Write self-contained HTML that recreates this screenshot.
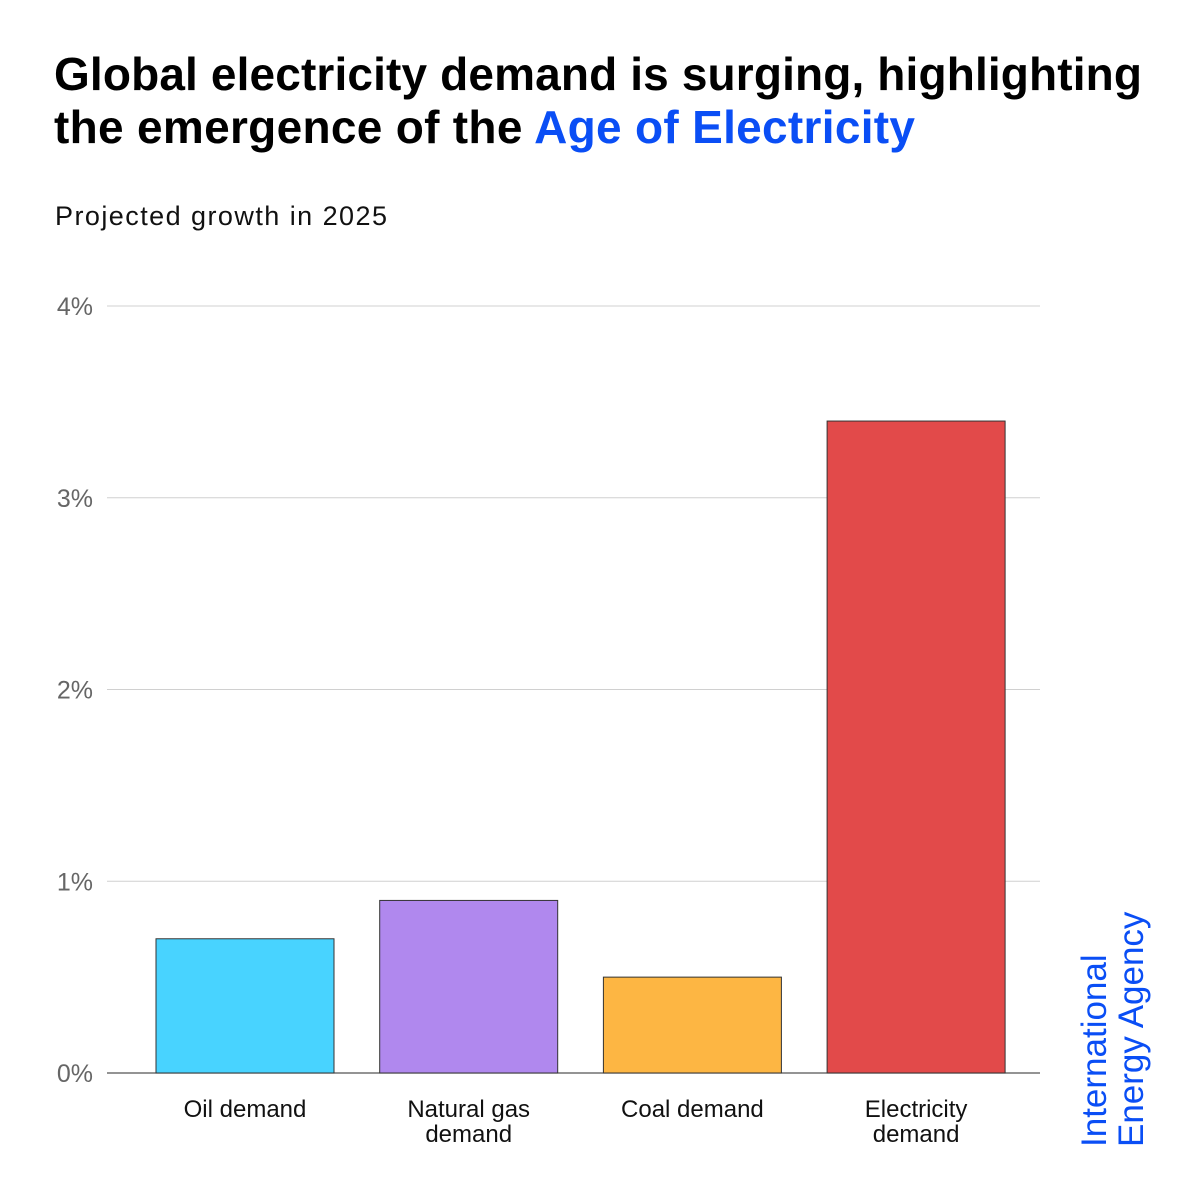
<!DOCTYPE html>
<html><head><meta charset="utf-8"><style>
body{margin:0;width:1200px;height:1200px;background:#fff;overflow:hidden}
svg{display:block;font-family:"Liberation Sans",sans-serif}
</style></head><body>
<svg id="c" width="1200" height="1200">
<text x="54" y="90" font-size="46" font-weight="bold" fill="#000" textLength="1088" lengthAdjust="spacing">Global electricity demand is surging, highlighting</text>
<text x="54" y="143" font-size="46" font-weight="bold" fill="#000" textLength="861" lengthAdjust="spacing">the emergence of the <tspan fill="#0a4ef5">Age of Electricity</tspan></text>
<text x="55" y="225" font-size="27" fill="#111" textLength="332" lengthAdjust="spacing">Projected growth in 2025</text>
<g id="grid"></g><g id="bars"></g><g id="xl"></g>
<text transform="translate(1106,1147) rotate(-90)" font-size="35" fill="#0a4ef5">International</text>
<text transform="translate(1143,1147) rotate(-90)" font-size="35" fill="#0a4ef5">Energy Agency</text>
</svg>
<script>
const categories=[["Oil demand"],["Natural gas","demand"],["Coal demand"],["Electricity","demand"]];
const values=[0.7,0.9,0.5,3.4];
const colors=["#48d3ff","#b088ee","#fdb643","#e24a4a"];
const ticks=[0,1,2,3,4];
const tickLabels=["0%","1%","2%","3%","4%"];
const NS="http://www.w3.org/2000/svg";
const y=v=>1073-v*191.75;
const x=i=>156+i*223.7;
const bw=178;
function mk(t,a,p){const e=document.createElementNS(NS,t);for(const k in a)e.setAttribute(k,a[k]);p.appendChild(e);return e;}
const g=document.getElementById('grid');
ticks.forEach((t,i)=>{
 const l=mk('line',{x1:107,x2:1040,y1:y(t),y2:y(t),stroke:t===0?'#555':'#d0d0d0','stroke-width':t===0?1.2:1},g);
 
 
 const tx=mk('text',{x:93,y:y(t)+9,'text-anchor':'end','font-size':25,fill:'#666'},g);
 tx.textContent=tickLabels[i];
 
 
});
const b=document.getElementById('bars'),xl=document.getElementById('xl');
values.forEach((v,i)=>{
 const r=mk('rect',{x:x(i),y:y(v),width:bw,height:y(0)-y(v),fill:colors[i],stroke:'#333','stroke-width':1},b);
 
 
 categories[i].forEach((s,j)=>{
  const t=mk('text',{x:x(i)+bw/2,y:1117+j*25,'text-anchor':'middle','font-size':24,fill:'#111'},xl);
  t.textContent=s;
  
  
 });
});
</script>
</body></html>
